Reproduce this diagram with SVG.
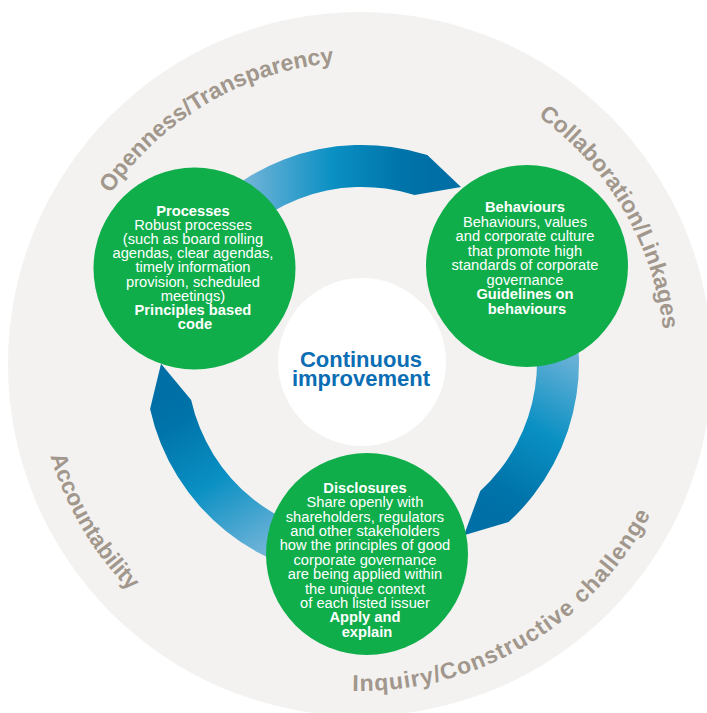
<svg xmlns="http://www.w3.org/2000/svg" width="707" height="713" viewBox="0 0 707 713">
<style>
.ring{font-family:"Liberation Sans",Arial,sans-serif;font-weight:bold;font-size:23px;fill:#a1978c}
.node{fill:#0fae4b}
.nt{font-family:"Liberation Sans",Arial,sans-serif;font-size:14.7px;fill:#ffffff;text-anchor:middle}
.b{font-weight:bold}
.ct{font-family:"Liberation Sans",Arial,sans-serif;font-weight:bold;font-size:22px;fill:#0b6db3;text-anchor:middle}
.arrow{fill:url(#blueGrad)}
</style>
<defs>
<linearGradient id="blueGrad" gradientUnits="userSpaceOnUse" x1="235" y1="200" x2="430" y2="200">
<stop offset="0" stop-color="#7db8db"/>
<stop offset="0.5" stop-color="#0a90c3"/>
<stop offset="0.85" stop-color="#0074aa"/>
<stop offset="1" stop-color="#006fa6"/>
</linearGradient>
<path id="p-open" d="M 58.0 365.6 A 302 302 0 0 1 509.6 101.7"/>
<path id="p-coll" d="M 357.9 59.0 A 305 305 0 0 1 625.2 514.7"/>
<path id="p-inq" d="M 200.2 649.3 A 327 327 0 0 0 687.0 359.7"/>
<path id="p-acc" d="M 78.6 205.4 A 323 323 0 0 0 363.4 687.0"/>
<path id="arrowShape" d="M 174.1 253.5 A 217 217 0 0 1 427.3 155.0 L 461.0 187.1 L 414.6 195.1 A 175 175 0 0 0 210.4 274.5 Z"/>
</defs>
<rect x="0" y="0" width="707" height="713" fill="#ffffff"/>
<circle id="outer-ring" cx="360" cy="364" r="352" fill="#f3f2f0"/>
<g id="ring-labels">
<text class="ring"><textPath href="#p-open" startOffset="50%" text-anchor="middle">Openness/Transparency</textPath></text>
<text class="ring"><textPath href="#p-coll" startOffset="50%" text-anchor="middle">Collaboration/Linkages</textPath></text>
<text class="ring" letter-spacing="1"><textPath href="#p-inq" startOffset="50%" text-anchor="middle">Inquiry/Constructive challenge</textPath></text>
<text class="ring"><textPath href="#p-acc" startOffset="50%" text-anchor="middle">Accountability</textPath></text>
</g>
<g id="connectors">
<use href="#arrowShape" class="arrow"/>
<use href="#arrowShape" class="arrow" transform="rotate(120 362 362)"/>
<use href="#arrowShape" class="arrow" transform="rotate(240 362 362)"/>
</g>
<g id="node-center">
<circle cx="362" cy="362" r="84" fill="#ffffff"/>
<text class="ct"><tspan x="361" y="367">Continuous</tspan><tspan x="361" y="385.5">improvement</tspan></text>
</g>
<g id="node-processes">
<circle class="node" cx="194.5" cy="268.5" r="101"/>
<text class="nt">
<tspan class="b" x="195" y="215.5">Processes</tspan>
<tspan x="195" y="229.7">Robust processes</tspan>
<tspan x="195" y="243.9">(such as board rolling</tspan>
<tspan x="195" y="258.1">agendas, clear agendas,</tspan>
<tspan x="195" y="272.3">timely information</tspan>
<tspan x="195" y="286.5">provision, scheduled</tspan>
<tspan x="195" y="300.7">meetings)</tspan>
<tspan class="b" x="195" y="314.9">Principles based</tspan>
<tspan class="b" x="195" y="329.1">code</tspan>
</text>
</g>
<g id="node-behaviours">
<circle class="node" cx="527" cy="266" r="101"/>
<text class="nt">
<tspan class="b" x="527" y="212.3">Behaviours</tspan>
<tspan x="527" y="226.8">Behaviours, values</tspan>
<tspan x="527" y="241.3">and corporate culture</tspan>
<tspan x="527" y="255.8">that promote high</tspan>
<tspan x="527" y="270.3">standards of corporate</tspan>
<tspan x="527" y="284.8">governance</tspan>
<tspan class="b" x="527" y="299.3">Guidelines on</tspan>
<tspan class="b" x="527" y="313.8">behaviours</tspan>
</text>
</g>
<g id="node-disclosures">
<circle class="node" cx="367" cy="554" r="101"/>
<text class="nt">
<tspan class="b" x="367" y="492.7">Disclosures</tspan>
<tspan x="367" y="507.1">Share openly with</tspan>
<tspan x="367" y="521.5">shareholders, regulators</tspan>
<tspan x="367" y="535.9">and other stakeholders</tspan>
<tspan x="367" y="550.3">how the principles of good</tspan>
<tspan x="367" y="564.7">corporate governance</tspan>
<tspan x="367" y="579.1">are being applied within</tspan>
<tspan x="367" y="593.5">the unique context</tspan>
<tspan x="367" y="607.9">of each listed issuer</tspan>
<tspan class="b" x="367" y="622.3">Apply and</tspan>
<tspan class="b" x="367" y="636.7">explain</tspan>
</text>
</g>
</svg>
